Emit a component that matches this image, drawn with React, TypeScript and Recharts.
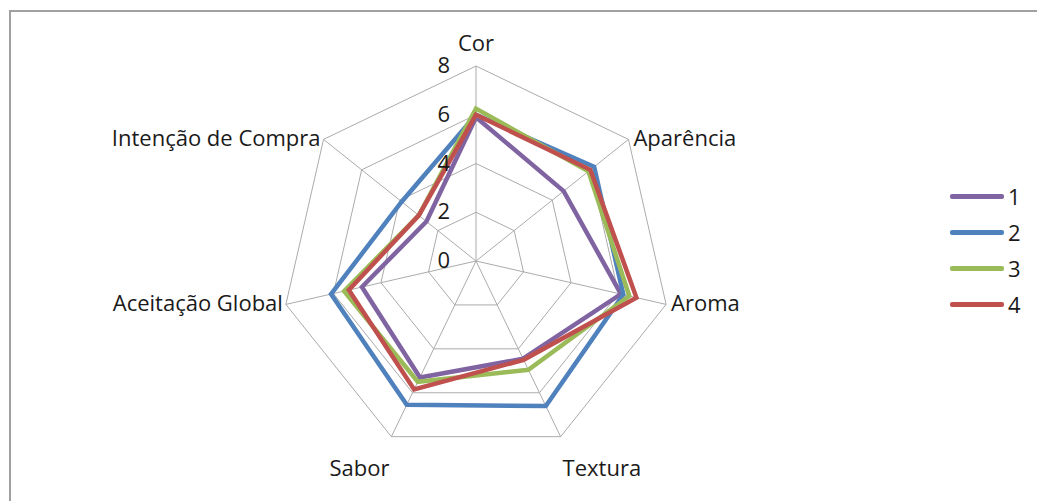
import { RadarChart, Radar, PolarGrid, PolarAngleAxis, PolarRadiusAxis, Legend } from 'recharts';

const atributos = ['Cor', 'Aparência', 'Aroma', 'Textura', 'Sabor', 'Aceitação Global', 'Intenção de Compra'];
const amostra1 = [5.9, 4.6, 6.1, 4.45, 5.3, 4.8, 2.6];
const amostra2 = [6.0, 6.2, 6.2, 6.6, 6.55, 6.1, 3.9];
const amostra3 = [6.25, 5.9, 6.45, 4.95, 5.5, 5.55, 3.0];
const amostra4 = [6.0, 6.0, 6.75, 4.5, 5.85, 5.35, 3.0];
const escala = [0, 2, 4, 6, 8];

const series = [
  { key: 's1', name: '1', color: '#8064A2' },
  { key: 's2', name: '2', color: '#4F81BD' },
  { key: 's3', name: '3', color: '#9BBB59' },
  { key: 's4', name: '4', color: '#C0504D' },
];

const data = atributos.map((a, i) => ({
  atributo: a,
  s1: amostra1[i],
  s2: amostra2[i],
  s3: amostra3[i],
  s4: amostra4[i],
}));

const CX = 476;
const CY = 261;
const R = 195;
const FONT = '"Open Sans", "Liberation Sans", sans-serif';
const FS = 22;

function AngleTick(props: any) {
  const { payload } = props;
  const rad = (payload.coordinate * Math.PI) / 180;
  const c = Math.cos(rad);
  const s = Math.sin(rad);
  const vx = CX + R * c;
  const vy = CY - R * s;
  let x = vx;
  let y = vy + 7;
  let anchor: 'start' | 'middle' | 'end' = 'middle';
  if (Math.abs(c) < 0.01) {
    y = vy - 15;
  } else if (s < -0.5) {
    anchor = c > 0 ? 'start' : 'end';
    x = vx + (c > 0 ? 2 : -2);
    y = vy + 39;
  } else {
    anchor = c > 0 ? 'start' : 'end';
    x = vx + (c > 0 ? 5 : -3);
  }
  return (
    <text x={x} y={y} textAnchor={anchor} fontSize={FS} fontFamily={FONT} fill="#1a1a1a">
      {payload.value}
    </text>
  );
}

function RadiusTick(props: any) {
  const { x, y, payload } = props;
  return (
    <text x={x - 26} y={y + 7} textAnchor="end" fontSize={FS} fontFamily={FONT} fill="#1a1a1a">
      {payload.value}
    </text>
  );
}

function Legenda() {
  return (
    <div style={{ fontFamily: FONT, fontSize: FS, color: '#1a1a1a' }}>
      {series.map((s) => (
        <div key={s.key} style={{ display: 'flex', alignItems: 'center', height: 36 }}>
          <span style={{ display: 'inline-block', width: 54, height: 5, background: s.color, borderRadius: 2 }} />
          <span style={{ marginLeft: 4 }}>{s.name}</span>
        </div>
      ))}
    </div>
  );
}

export default function App() {
  return (
    <div style={{ position: 'absolute', left: 0, top: 0, width: 1037, height: 501, background: '#fff', overflow: 'hidden' }}>
      <div
        style={{
          position: 'absolute',
          left: 9,
          top: 10,
          width: 1100,
          height: 600,
          borderLeft: '2px solid #a0a0a0',
          borderTop: '2px solid #a0a0a0',
        }}
      />
      <RadarChart
        width={1037}
        height={501}
        data={data}
        cx={CX}
        cy={CY}
        outerRadius={R}
        style={{ position: 'absolute', left: 0, top: 0 }}
      >
        <PolarGrid gridType="polygon" stroke="#ababab" strokeWidth={1} />
        <PolarAngleAxis dataKey="atributo" tick={<AngleTick />} tickLine={false} axisLine={false} />
        <PolarRadiusAxis
          angle={90}
          domain={[0, 8]}
          ticks={escala}
          tickCount={5}
          axisLine={false}
          tickLine={false}
          tick={<RadiusTick />}
        />
        {series.map((s) => (
          <Radar
            key={s.key}
            name={s.name}
            dataKey={s.key}
            stroke={s.color}
            strokeWidth={4.5}
            fill="none"
            fillOpacity={0}
            dot={false}
            isAnimationActive={false}
          />
        ))}
        <Legend
          layout="vertical"
          align="right"
          verticalAlign="top"
          content={<Legenda />}
          wrapperStyle={{ left: 950, top: 178, width: 80 }}
        />
      </RadarChart>
    </div>
  );
}
